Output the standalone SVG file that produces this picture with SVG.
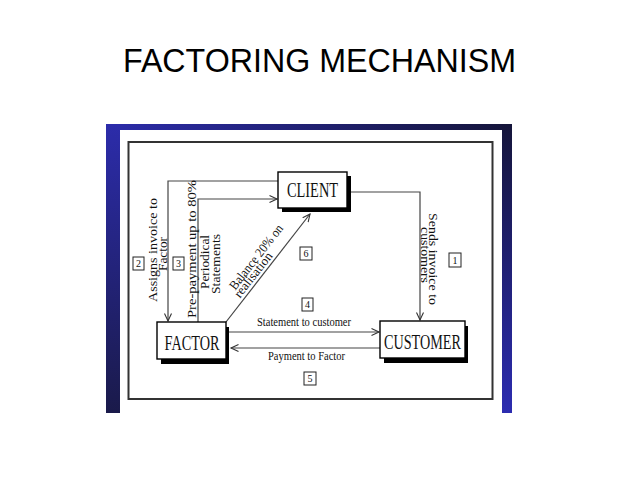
<svg xmlns="http://www.w3.org/2000/svg" width="638" height="479" viewBox="0 0 638 479">
<defs>
<linearGradient id="gTop" x1="0" y1="0" x2="1" y2="0"><stop offset="0" stop-color="#2c2caa"/><stop offset="1" stop-color="#15153a"/></linearGradient>
<linearGradient id="gLeft" x1="0" y1="0" x2="0" y2="1"><stop offset="0" stop-color="#2c2caa"/><stop offset="1" stop-color="#1a1a4a"/></linearGradient>
<linearGradient id="gRight" x1="0" y1="0" x2="0" y2="1"><stop offset="0" stop-color="#15153a"/><stop offset="1" stop-color="#2c2cb0"/></linearGradient>
<marker id="arr" markerWidth="10" markerHeight="10" refX="8" refY="4" orient="auto" markerUnits="userSpaceOnUse">
<path d="M0.5,0.5 L8,4 L0.5,7.5" fill="none" stroke="#333" stroke-width="1.1"/>
</marker>
<style>
.title{font-family:"Liberation Sans",Arial,sans-serif;font-size:34px;fill:#000}
.box{fill:#fff;stroke:#000;stroke-width:1.4}
.shadow{fill:#000}
.big{font-family:"Liberation Serif","Times New Roman",serif;font-size:20px;fill:#111;text-anchor:middle}
.sm{font-family:"Liberation Serif","Times New Roman",serif;font-size:12.5px;fill:#111;text-anchor:middle}
.rt{font-family:"Liberation Serif","Times New Roman",serif;font-size:13px;fill:#111;text-anchor:middle}
.num{font-family:"Liberation Serif","Times New Roman",serif;font-size:10px;fill:#111;text-anchor:middle}
.nbox{fill:#fff;stroke:#222;stroke-width:1}
.con{fill:none;stroke:#444;stroke-width:1.2;marker-end:url(#arr)}
</style>
</defs>
<rect width="638" height="479" fill="#fff"/>
<text class="title" x="123" y="72" textLength="393" lengthAdjust="spacingAndGlyphs">FACTORING MECHANISM</text>
<g id="frame">
<rect x="106" y="124" width="406" height="6" fill="url(#gTop)"/>
<rect x="106" y="124" width="14" height="289" fill="url(#gLeft)"/>
<rect x="502" y="124" width="10" height="289" fill="url(#gRight)"/>
<rect x="128.5" y="142" width="364" height="257" fill="none" stroke="#333" stroke-width="2"/>
</g>
<g id="connectors">
<path class="con" d="M278,181 H168 V321"/>
<path class="con" d="M198,322 V199 H277"/>
<path class="con" d="M226,322 L310,214"/>
<path class="con" d="M351,192 H420 V320"/>
<path class="con" d="M229,332 H379"/>
<path class="con" d="M380,348 H231"/>
</g>
<g id="client">
<rect class="shadow" x="282" y="176" width="69" height="36"/>
<rect class="box" x="278" y="172" width="69" height="36"/>
<text class="big" x="312.5" y="197" textLength="51" lengthAdjust="spacingAndGlyphs">CLIENT</text>
</g>
<g id="factor">
<rect class="shadow" x="161" y="327" width="68" height="37"/>
<rect class="box" x="157" y="322" width="69" height="37"/>
<text class="big" x="192" y="350" textLength="55" lengthAdjust="spacingAndGlyphs">FACTOR</text>
</g>
<g id="customer">
<rect class="shadow" x="384" y="326" width="84" height="37"/>
<rect class="box" x="380" y="321" width="85" height="37"/>
<text class="big" x="422.5" y="349" textLength="77" lengthAdjust="spacingAndGlyphs">CUSTOMER</text>
</g>
<g id="labels">
<text class="sm" x="304" y="326" textLength="94" lengthAdjust="spacingAndGlyphs">Statement to customer</text>
<text class="sm" x="306.5" y="360" textLength="77" lengthAdjust="spacingAndGlyphs">Payment to Factor</text>
<text class="rt" transform="translate(156.5,250) rotate(-90)" textLength="104" lengthAdjust="spacingAndGlyphs">Assigns invoice to</text>
<text class="rt" transform="translate(167,254) rotate(-90)" textLength="34" lengthAdjust="spacingAndGlyphs">Factor</text>
<text class="rt" transform="translate(195.5,249) rotate(-90)" textLength="138" lengthAdjust="spacingAndGlyphs">Pre-payment up to 80%</text>
<text class="rt" transform="translate(208.5,262) rotate(-90)" textLength="54" lengthAdjust="spacingAndGlyphs">Periodical</text>
<text class="rt" transform="translate(219.5,264) rotate(-90)" textLength="60" lengthAdjust="spacingAndGlyphs">Statements</text>
<text class="rt" transform="translate(429,259) rotate(90)" textLength="92" lengthAdjust="spacingAndGlyphs">Sends invoice to</text>
<text class="rt" transform="translate(421,255) rotate(90)" textLength="56" lengthAdjust="spacingAndGlyphs">customers</text>
<text class="rt" transform="translate(259.5,259.5) rotate(-52)" textLength="79" lengthAdjust="spacingAndGlyphs">Balance 20% on</text>
<text class="rt" transform="translate(256.5,277.5) rotate(-52)" textLength="54" lengthAdjust="spacingAndGlyphs">realisation</text>
</g>
<g id="numbers">
<rect class="nbox" x="449" y="253" width="12" height="14"/><text class="num" x="455" y="264">1</text>
<rect class="nbox" x="133" y="257" width="11" height="13"/><text class="num" x="138.5" y="267">2</text>
<rect class="nbox" x="173" y="257" width="11" height="13"/><text class="num" x="178.5" y="267">3</text>
<rect class="nbox" x="302" y="298" width="11" height="13"/><text class="num" x="307.5" y="308">4</text>
<rect class="nbox" x="304" y="372" width="12" height="13"/><text class="num" x="310" y="382">5</text>
<rect class="nbox" x="300" y="247" width="12" height="13"/><text class="num" x="306" y="257">6</text>
</g>
</svg>
